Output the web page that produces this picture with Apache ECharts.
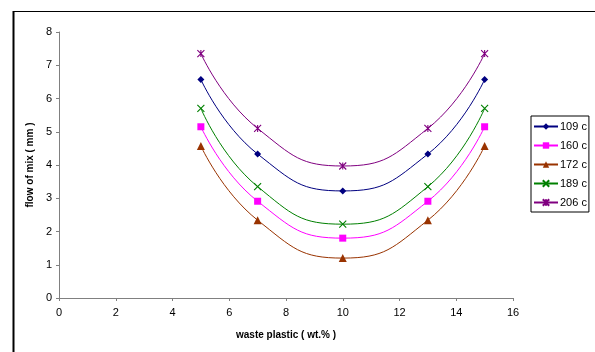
<!DOCTYPE html>
<html>
<head>
<meta charset="utf-8">
<script src="https://cdn.jsdelivr.net/npm/echarts@6/dist/echarts.min.js"></script>
<style>
html,body{margin:0;padding:0;background:#fff;}
#chart{width:595px;height:352px;}
</style>
</head>
<body>
<div id="chart"></div>
<script>
var xValues = [5, 7, 10, 13, 15];
var s109 = [6.57, 4.33, 3.22, 4.33, 6.57];
var s160 = [5.15, 2.91, 1.80, 2.91, 5.15];
var s172 = [4.57, 2.34, 1.20, 2.34, 4.57];
var s189 = [5.70, 3.35, 2.22, 3.35, 5.70];
var s206 = [7.35, 5.10, 3.97, 5.10, 7.35];
var seriesNames = ['109 c', '160 c', '172 c', '189 c', '206 c'];
var yTicks = [0, 1, 2, 3, 4, 5, 6, 7, 8];
var xTicks = [0, 2, 4, 6, 8, 10, 12, 14, 16];

var colors = ['#000080', '#FF00FF', '#993300', '#008000', '#800080'];
var symbols = [
  'diamond',
  'rect',
  'triangle',
  'path://M0,0L10,10M10,0L0,10',
  'path://M0,0L10,10M10,0L0,10M5,0L5,10'
];
var symbolSizes = [7, 7, 8, 7, 7];
var allData = [s109, s160, s172, s189, s206];

function pairs(vals) {
  return xValues.map(function (x, i) { return [x, vals[i]]; });
}

var series = allData.map(function (vals, i) {
  return {
    name: seriesNames[i],
    type: 'line',
    data: pairs(vals),
    smooth: 0.5,
    symbol: symbols[i],
    symbolSize: symbolSizes[i],
    showAllSymbol: true,
    lineStyle: { color: colors[i], width: 1 },
    itemStyle: { color: colors[i], borderColor: colors[i], borderWidth: (i >= 3 ? 1.1 : 0) },
    emphasis: { disabled: true },
    z: 10 - i
  };
});

var chart = echarts.init(document.getElementById('chart'), null, { renderer: 'canvas' });
chart.setOption({
  animation: false,
  backgroundColor: '#ffffff',
  textStyle: { fontFamily: 'Liberation Sans, Arial, sans-serif' },
  grid: { left: 59, top: 32, right: 82, bottom: 54, containLabel: false },
  xAxis: {
    type: 'value',
    min: xTicks[0],
    max: xTicks[xTicks.length - 1],
    interval: 2,
    name: 'waste plastic ( wt.% )',
    nameLocation: 'middle',
    nameGap: 32,
    nameTextStyle: { fontSize: 10, fontWeight: 'bold', color: '#000' },
    axisLine: { show: true, lineStyle: { color: '#808080', width: 1 } },
    axisTick: { show: true, inside: false, length: 3, lineStyle: { color: '#808080' } },
    axisLabel: { fontSize: 11, color: '#000', margin: 9 },
    splitLine: { show: false }
  },
  yAxis: {
    type: 'value',
    min: yTicks[0],
    max: yTicks[yTicks.length - 1],
    interval: 1,
    name: 'flow of mix ( mm )',
    nameLocation: 'middle',
    nameGap: 22,
    nameRotate: 90,
    nameTextStyle: { fontSize: 10, fontWeight: 'bold', color: '#000' },
    axisLine: { show: true, lineStyle: { color: '#808080', width: 1 } },
    axisTick: { show: true, inside: false, length: 3, lineStyle: { color: '#808080' } },
    axisLabel: { fontSize: 11, color: '#000', margin: 7 },
    splitLine: { show: false }
  },
  legend: {
    orient: 'vertical',
    left: 531,
    top: 116,
    itemWidth: 24,
    itemHeight: 8,
    itemGap: 8,
    padding: [5, 2, 4, 2],
    borderColor: '#000',
    borderWidth: 1,
    textStyle: { fontSize: 11, color: '#000', padding: [0, 0, 0, -3] },
    data: seriesNames
  },
  graphic: [
    { type: 'line', shape: { x1: 13.5, y1: 11, x2: 13.5, y2: 352 }, style: { stroke: '#000', lineWidth: 2 } },
    { type: 'line', shape: { x1: 13, y1: 11.5, x2: 595, y2: 11.5 }, style: { stroke: '#000', lineWidth: 1.2 } }
  ],
  series: series
});
</script>
</body>
</html>
